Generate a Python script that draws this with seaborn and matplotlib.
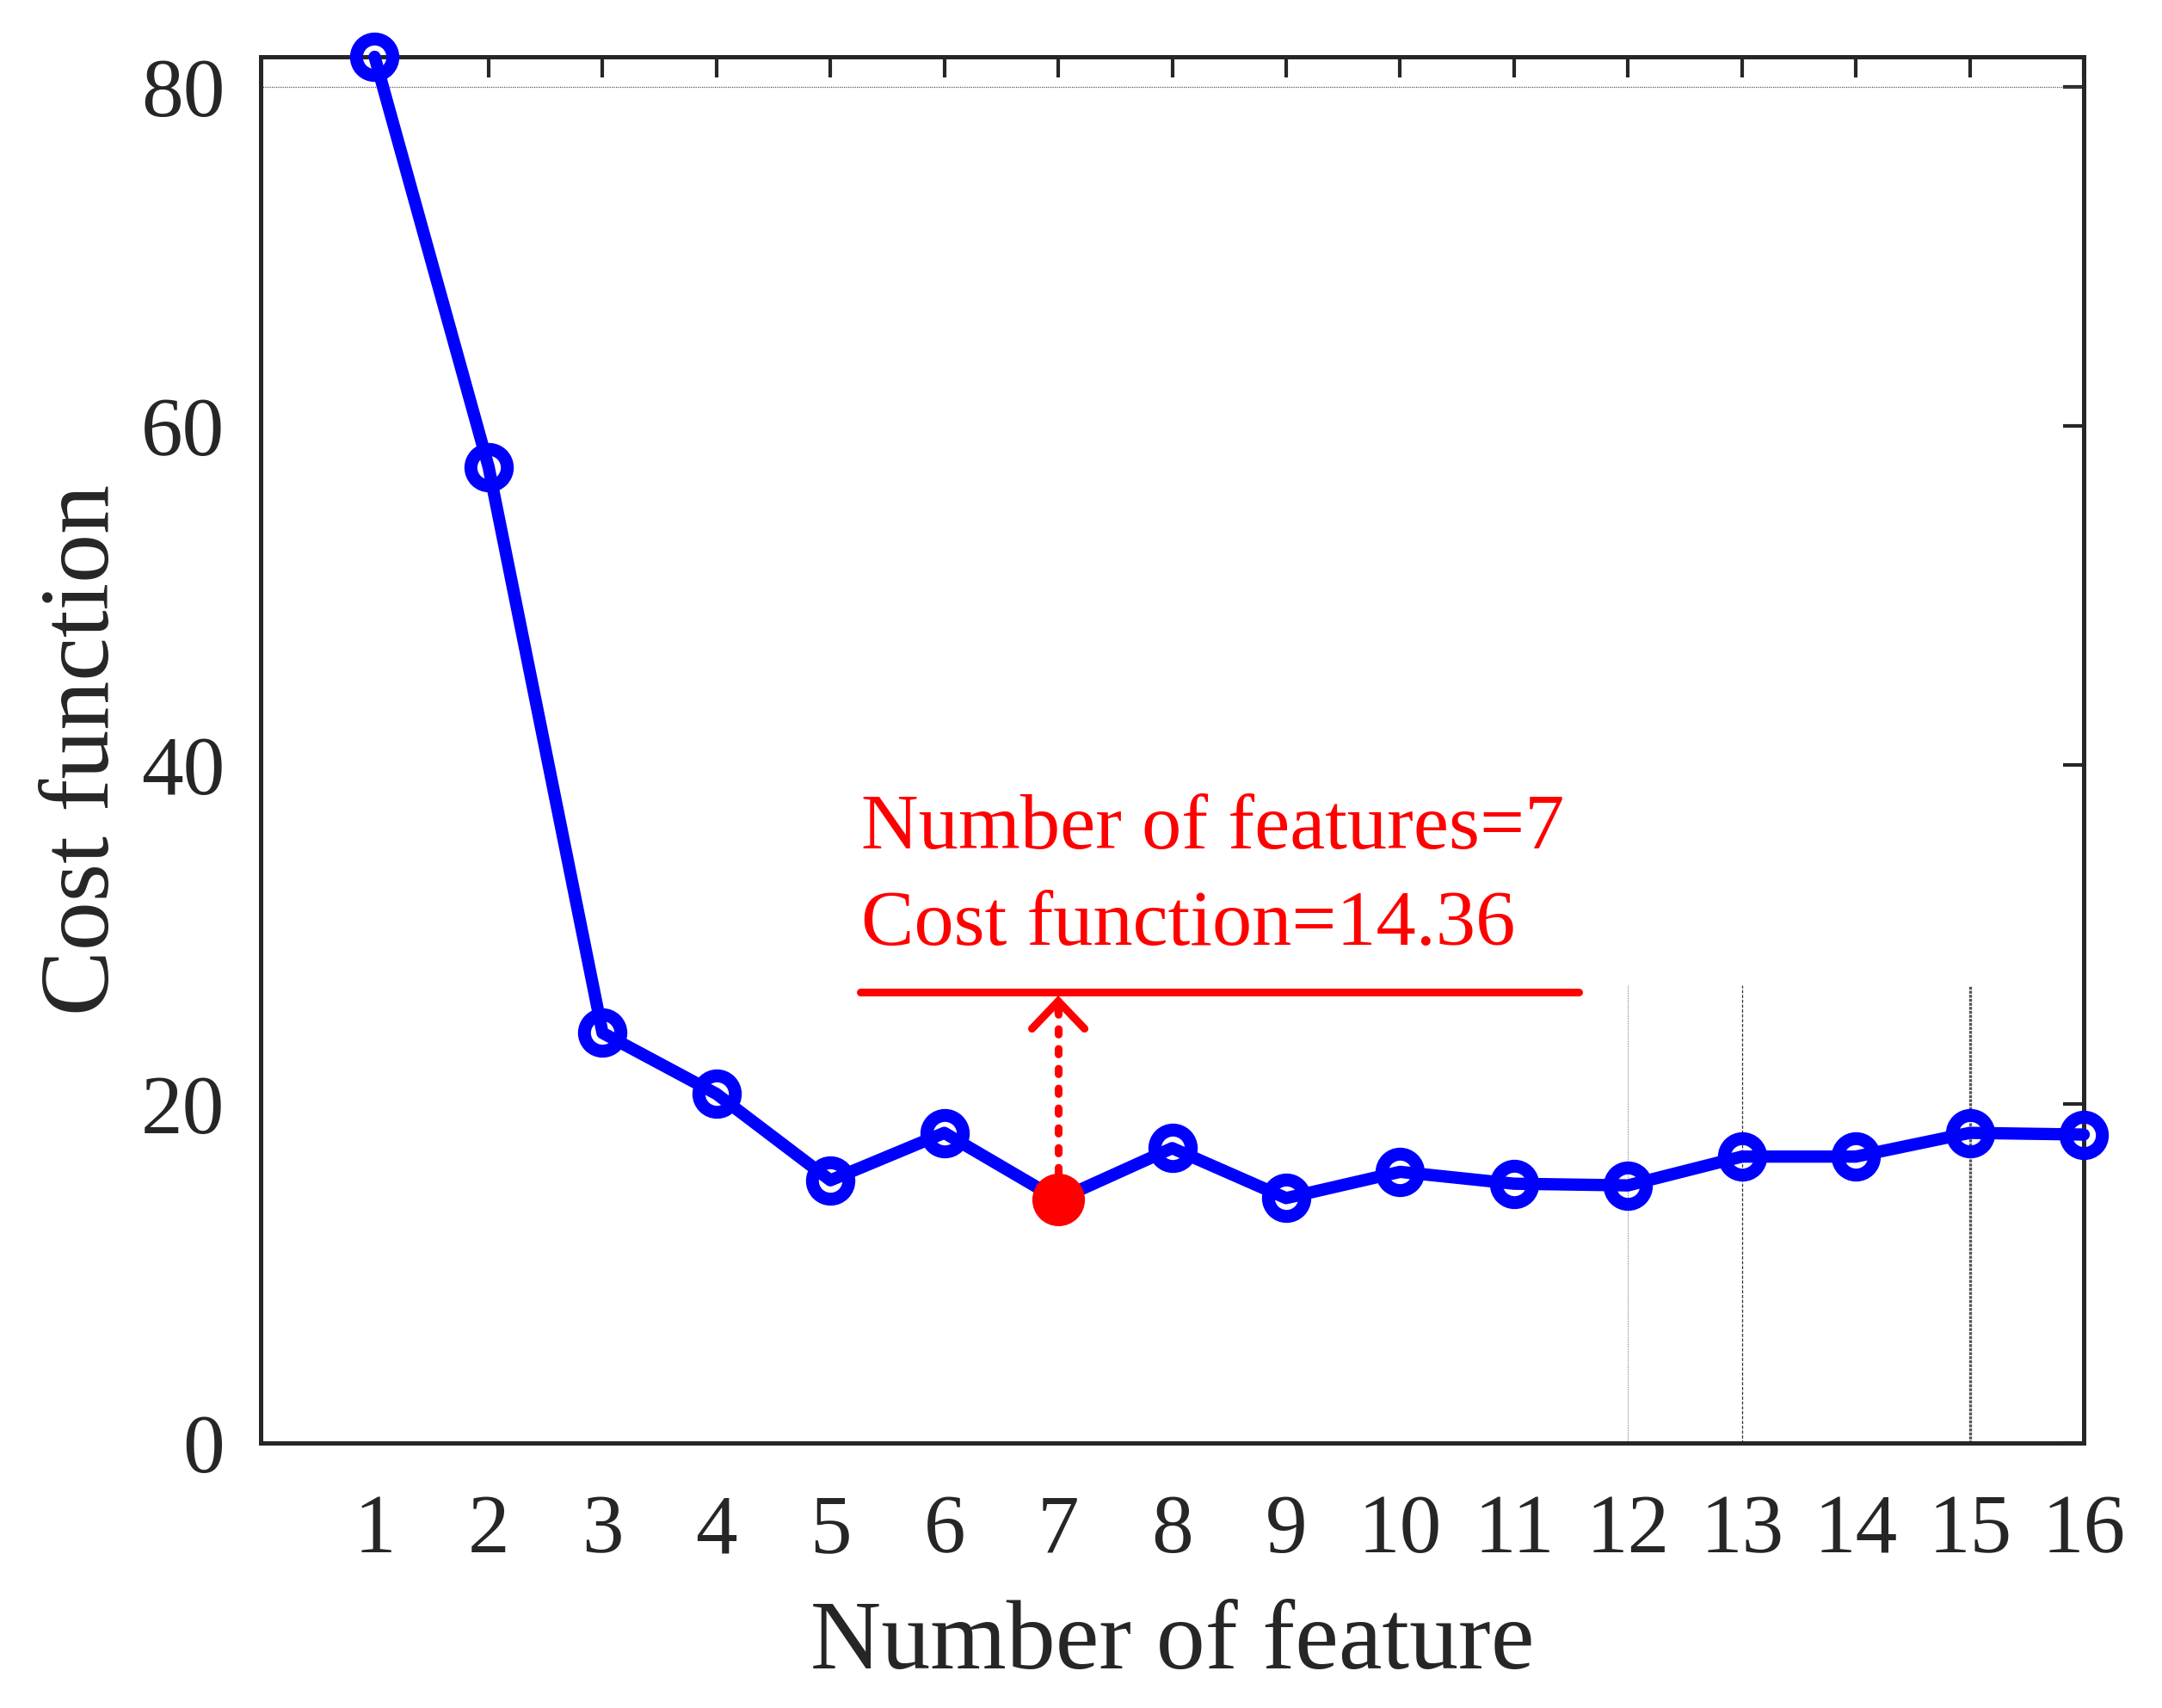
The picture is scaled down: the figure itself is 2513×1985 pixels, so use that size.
import numpy as np
import pandas as pd
import matplotlib
matplotlib.use("Agg")
import matplotlib.pyplot as plt
import seaborn as sns

# ---- data ----
n_features = [1, 2, 3, 4, 5, 6, 7, 8, 9, 10, 11, 12, 13, 14, 15, 16]
cost = [81.8, 57.6, 24.2, 20.6, 15.5, 18.3, 14.36, 17.4, 14.45, 16.0, 15.3, 15.2, 16.9, 16.9, 18.3, 18.2]
best_n = 7
best_cost = 14.36
x_ticks = list(range(1, 17))
y_ticks = [0, 20, 40, 60, 80]
guide_x = [12, 13, 15]
guide_top = 27.0
ref_y = 80

df = pd.DataFrame({"n": n_features, "cost": cost})

sns.set_theme(style="white")
plt.rcParams["font.family"] = ["Liberation Serif", "DejaVu Serif"]
plt.rcParams["mathtext.fontset"] = "stix"

W, H, DPI = 2513, 1985, 100
fig = plt.figure(figsize=(W / DPI, H / DPI), dpi=DPI)
ax = fig.add_axes([303 / W, 1 - 1677 / H, (2422 - 303) / W, (1677 - 66) / H])

dark = "#262626"

# faint guide lines
ax.axhline(ref_y, color="#555555", lw=0.9, ls=(0, (1, 1)), zorder=1)
styles = [(0, (1, 1.5)), (0, (3, 1.5)), (0, (1, 0.4))]
widths = [0.6, 0.9, 2.4]
colors = ["#444444", "#333333", "#555555"]
for gx, st, w, c in zip(guide_x, styles, widths, colors):
    ax.vlines(gx, 0, guide_top, color=c, lw=w, linestyles=[st], zorder=1)

sns.lineplot(data=df, x="n", y="cost", ax=ax, color="#0000ff", lw=10.3,
             marker="o", markersize=30.5, markerfacecolor="none",
             markeredgecolor="#0000ff", markeredgewidth=10.8, zorder=3,
             clip_on=False)

# highlighted point
ax.plot([best_n], [best_cost], "o", color="#ff0000", markersize=43, zorder=5,
        clip_on=False)

# annotation
line_y = 26.6
ax.plot([5.26, 11.57], [line_y, line_y], color="#ff0000", lw=6.5,
        solid_capstyle="round", zorder=4)
ax.plot([best_n, best_n], [best_cost + 1.6, line_y - 1.0], color="#ff0000",
        lw=6.5, ls=(0, (0.7, 1.85)), dash_capstyle="round", zorder=4)
ax.annotate("", xy=(best_n, line_y - 0.2), xytext=(best_n, line_y - 1.2),
            arrowprops=dict(arrowstyle="->,head_length=23,head_width=22",
                            mutation_scale=1, color="#ff0000", lw=6.5,
                            capstyle="round", joinstyle="miter",
                            shrinkA=0, shrinkB=0),
            zorder=4)
ax.text(5.27, 35.1, f"Number of features={best_n}", color="#ff0000",
        fontsize=66.5, va="baseline", ha="left")
ax.text(5.27, 29.4, f"Cost function={best_cost:.2f}", color="#ff0000",
        fontsize=66.5, va="baseline", ha="left")

ax.set_xlim(0, 16)
ax.set_ylim(0, max(cost))
ax.set_xticks(x_ticks)
ax.set_yticks(y_ticks)
ax.set_xticklabels([str(v) for v in x_ticks])
ax.set_yticklabels([str(v) for v in y_ticks])
ax.tick_params(direction="in", top=True, right=True, length=17, width=3,
               colors=dark, labelsize=70, pad=30)
ax.tick_params(axis="x", pad=43)
for s in ax.spines.values():
    s.set_linewidth(3.6)
    s.set_color(dark)
    s.set_visible(True)

ax.set_xlabel("Number of feature", fontsize=82, color=dark, labelpad=25)
ax.set_ylabel("Cost function", fontsize=82, color=dark, labelpad=10)

fig.savefig("out.png", dpi=DPI, facecolor="white")
